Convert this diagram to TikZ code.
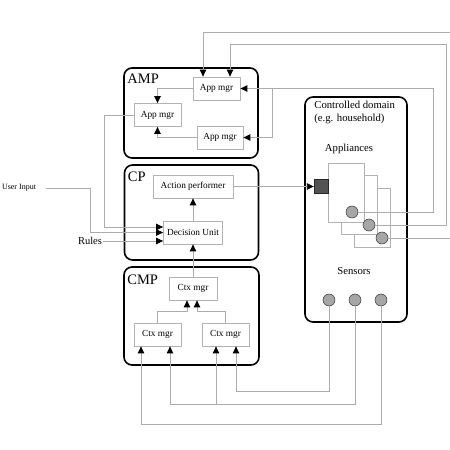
\documentclass[tikz,border=0pt]{standalone}
\usepackage{fontspec}
\setmainfont{Liberation Serif}
\usetikzlibrary{arrows.meta, calc, positioning}
\tikzset{
    mgr/.style={draw=gray!60, fill=white, line width=0.8pt, minimum height=23pt, inner sep=1pt, font=\fontsize{9.3}{10}\selectfont},
    grp/.style={draw=black, line width=1.6pt, rounded corners=8pt},
    tag/.style={anchor=north west, inner sep=0pt, font=\fontsize{14.5}{15}\selectfont},
    txt/.style={inner sep=1pt, font=\fontsize{10.7}{13}\selectfont},
    panel/.style={draw=gray!60, fill=white, line width=0.8pt, minimum width=36pt, minimum height=59pt},
    dot/.style={circle, draw=gray!40!black, fill=gray!70, line width=0.5pt, minimum size=12pt, inner sep=0pt},
    wire/.style={draw=gray!65, line width=0.9pt},
    tip/.style={-{Triangle[length=7pt,width=6.5pt,color=black]}}
}
\begin{document}
\begin{tikzpicture}[x=1pt, y=-1pt]
    \useasboundingbox (0,0) rectangle (450,450);
    \node[grp, minimum width=134pt, minimum height=90pt] (amp) at (191,113) {};
    \node[grp, minimum width=134pt, minimum height=95pt] (cp) at (191.5,212.5) {};
    \node[grp, minimum width=135pt, minimum height=98pt] (cmp) at (191.5,316) {};
    \node[grp, minimum width=102pt, minimum height=225pt] (dom) at (356,209.5) {};
    \node[tag] (ampT) at ([shift={(4pt,-7pt)}]amp.north west) {AMP};
    \node[tag] (cpT) at ([shift={(4pt,-7pt)}]cp.north west) {CP};
    \node[tag] (cmpT) at ([shift={(4pt,-8pt)}]cmp.north west) {CMP};
    \node[txt, anchor=north west, align=left] (domT) at ([shift={(9pt,-4pt)}]dom.north west) {Controlled domain\\(e.g. household)};
    \node[txt] (appT) at (349,149) {Appliances};
    \node[txt] (senT) at (354,271) {Sensors};
    \node[mgr, minimum width=47pt] (am1) at (216.5,88.5) {App mgr};
    \node[mgr, minimum width=47pt] (am2) at (157.5,115) {App mgr};
    \node[mgr, minimum width=46pt] (am3) at (220,137.5) {App mgr};
    \node[mgr, minimum width=80pt] (act) at (193,186.5) {Action performer};
    \node[mgr, minimum width=59pt] (dec) at (193,232.5) {Decision Unit};
    \node[mgr, minimum width=48pt] (cm1) at (193,288.5) {Ctx mgr};
    \node[mgr, minimum width=47pt] (cm2) at (157.5,334.5) {Ctx mgr};
    \node[mgr, minimum width=47pt] (cm3) at (225.5,334.5) {Ctx mgr};
    \node[txt, font=\fontsize{8}{9}\selectfont] (usr) at (19,188) {User Input};
    \node[txt, font=\fontsize{10.5}{12}\selectfont] (rul) at (90,241) {Rules};
    \node[panel] (ap3) at (372,217.5) {};
    \node[panel] (ap2) at (359,204.5) {};
    \node[panel] (ap1) at (346,192.5) {};
    \node[draw=gray!30!black, fill=gray!65!black, minimum size=14pt, inner sep=0pt] (sq) at (321,186.5) {};
    \node[dot] (c1) at (352,212) {};
    \node[dot] (c2) at (369,225) {};
    \node[dot] (c3) at (382,238) {};
    \foreach \i/\x in {1/329,2/355,3/381}
        \node[dot] (s\i) at (\x,300) {};
    \coordinate (e1) at (450,32);
    \coordinate (e3) at (450,238);
    \coordinate (j1) at (272,88.5);
    \coordinate (j2) at (216,404);
    \draw[wire, tip] (act) -- (sq);
    \draw[wire, tip] (e1) -| ([xshift=-13.5pt]am1.north);
    \draw[wire, tip] (c2.east) -| (446,44) -| ([xshift=13.5pt]am1.north);
    \draw[wire, tip] (c1.east) -| (433,88.5) -- (am1.east);
    \draw[wire, tip] (j1) |- (am3.east);
    \draw[wire] (c3.east) -- (e3);
    \draw[wire, tip] (am1.west) -| (am2.north);
    \draw[wire, tip] (am3.west) -| (am2.south);
    \draw[wire, tip] (am2.west) -- ++(-29,0) |- ([yshift=5.5pt]dec.west);
    \draw[wire, tip] ([xshift=9pt]usr.east) -| ([xshift=-73pt]dec.west) -- (dec.west);
    \draw[wire, tip] (rul.east) -- (rul.east -| dec.west);
    \draw[wire, tip] (dec) -- (act);
    \draw[wire, tip] (cm1) -- (dec);
    \draw[wire, tip] (cm2.north) -- ++(0,-11) -| ([xshift=-6pt]cm1.south);
    \draw[wire, tip] (cm3.north) -- ++(0,-11) -| ([xshift=4pt]cm1.south);
    \draw[wire, tip] (s1.south) -- ++(0,85) -| ([xshift=10.5pt]cm3.south);
    \draw[wire, tip] (s2.south) -- ++(0,98) -| ([xshift=12.5pt]cm2.south);
    \draw[wire, tip] (j2) -- (j2 |- cm3.south);
    \draw[wire, tip] (s3.south) -- ++(0,118) -| ([xshift=-16.5pt]cm2.south);
\end{tikzpicture}
\end{document}
